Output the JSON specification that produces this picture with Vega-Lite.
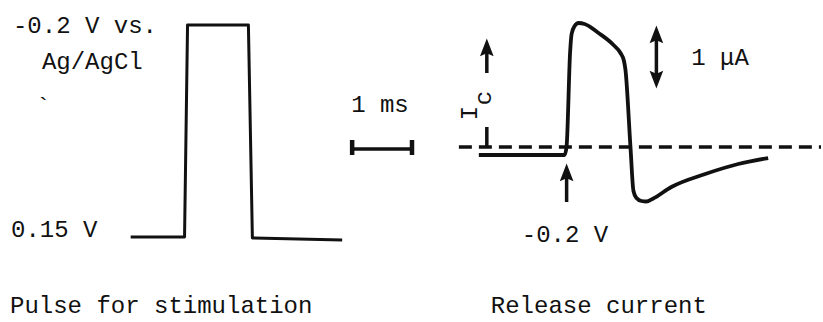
{
  "$schema": "https://vega.github.io/schema/vega-lite/v6.json",
  "width": 823,
  "height": 322,
  "autosize": {"type": "fit", "contains": "padding"},
  "padding": 0,
  "background": "white",
  "config": {"view": {"stroke": null}},
  "datasets": {
    "waves": [
      {"trace": "pulse", "i": 0, "x": 131, "y": 237},
      {"trace": "pulse", "i": 1, "x": 185, "y": 237},
      {"trace": "pulse", "i": 2, "x": 188, "y": 25},
      {"trace": "pulse", "i": 3, "x": 249, "y": 25},
      {"trace": "pulse", "i": 4, "x": 253, "y": 238},
      {"trace": "pulse", "i": 5, "x": 343, "y": 240},
      {"trace": "current", "i": 0, "x": 480, "y": 155},
      {"trace": "current", "i": 1, "x": 566, "y": 155},
      {"trace": "current", "i": 2, "x": 568, "y": 146},
      {"trace": "current", "i": 3, "x": 571.5, "y": 52},
      {"trace": "current", "i": 4, "x": 573, "y": 34},
      {"trace": "current", "i": 5, "x": 576, "y": 26},
      {"trace": "current", "i": 6, "x": 580, "y": 23},
      {"trace": "current", "i": 7, "x": 586, "y": 24},
      {"trace": "current", "i": 8, "x": 600, "y": 33},
      {"trace": "current", "i": 9, "x": 615, "y": 45},
      {"trace": "current", "i": 10, "x": 622, "y": 53},
      {"trace": "current", "i": 11, "x": 625.5, "y": 61},
      {"trace": "current", "i": 12, "x": 627, "y": 70},
      {"trace": "current", "i": 13, "x": 632, "y": 147},
      {"trace": "current", "i": 14, "x": 635, "y": 191},
      {"trace": "current", "i": 15, "x": 638, "y": 198},
      {"trace": "current", "i": 16, "x": 643, "y": 201},
      {"trace": "current", "i": 17, "x": 648, "y": 201.5},
      {"trace": "current", "i": 18, "x": 654, "y": 199},
      {"trace": "current", "i": 19, "x": 673, "y": 187},
      {"trace": "current", "i": 20, "x": 707, "y": 174},
      {"trace": "current", "i": 21, "x": 740, "y": 164},
      {"trace": "current", "i": 22, "x": 770, "y": 158}
    ],
    "hrules": [
      {"x": 460, "x2": 823, "y": 147, "kind": "baseline"},
      {"x": 353, "x2": 413, "y": 149, "kind": "scalebar"}
    ],
    "caps": [
      {"x": 353, "y": 140, "y2": 155},
      {"x": 413, "y": 140, "y2": 155}
    ],
    "shafts": [
      {"x": 488, "y": 50, "y2": 73},
      {"x": 488, "y": 127, "y2": 147},
      {"x": 568, "y": 175, "y2": 202},
      {"x": 658, "y": 37, "y2": 77}
    ],
    "heads": [
      {"x": 488, "y": 49, "dir": "up"},
      {"x": 568, "y": 174, "dir": "up"},
      {"x": 658, "y": 36, "dir": "up"},
      {"x": 658, "y": 78, "dir": "down"}
    ],
    "labels": [
      {"text": "-0.2 V vs.", "x": 13, "y": 33},
      {"text": "Ag/AgCl", "x": 42, "y": 69},
      {"text": "`", "x": 36, "y": 114},
      {"text": "0.15 V", "x": 11, "y": 237},
      {"text": "1 ms", "x": 352, "y": 112},
      {"text": "1 μA", "x": 693, "y": 65},
      {"text": "-0.2 V", "x": 523, "y": 242},
      {"text": "Pulse for stimulation", "x": 10, "y": 313},
      {"text": "Release current", "x": 492, "y": 313}
    ],
    "rotated": [
      {"text": "I", "x": 478, "y": 113},
      {"text": "c", "x": 492, "y": 98}
    ]
  },
  "encoding": {
    "x": {"field": "x", "type": "quantitative", "axis": null, "scale": {"domain": [0, 823], "nice": false, "zero": false}},
    "y": {"field": "y", "type": "quantitative", "axis": null, "scale": {"domain": [0, 322], "nice": false, "zero": false, "reverse": true}}
  },
  "layer": [
    {
      "data": {"name": "hrules"},
      "transform": [{"filter": "datum.kind === 'baseline'"}],
      "mark": {"type": "rule", "color": "#111", "strokeWidth": 3.5, "strokeDash": [13, 7]},
      "encoding": {"x2": {"field": "x2"}}
    },
    {
      "data": {"name": "hrules"},
      "transform": [{"filter": "datum.kind === 'scalebar'"}],
      "mark": {"type": "rule", "color": "#111", "strokeWidth": 3.5},
      "encoding": {"x2": {"field": "x2"}}
    },
    {
      "data": {"name": "caps"},
      "mark": {"type": "rule", "color": "#111", "strokeWidth": 4.5},
      "encoding": {"y2": {"field": "y2"}}
    },
    {
      "data": {"name": "shafts"},
      "mark": {"type": "rule", "color": "#111", "strokeWidth": 3.5},
      "encoding": {"y2": {"field": "y2"}}
    },
    {
      "data": {"name": "heads"},
      "mark": {"type": "point", "filled": true, "color": "#111", "opacity": 1, "size": 440, "strokeWidth": 0},
      "encoding": {
        "shape": {"field": "dir", "type": "nominal", "legend": null, "scale": {"domain": ["up", "down"], "range": ["M0,-1L0.65,0.7L0,0.4L-0.65,0.7Z", "M0,1L0.65,-0.7L0,-0.4L-0.65,-0.7Z"]}}
      }
    },
    {
      "data": {"name": "waves"},
      "transform": [{"filter": "datum.trace === 'pulse'"}],
      "mark": {"type": "line", "color": "#111", "strokeWidth": 3, "strokeJoin": "round"},
      "encoding": {"order": {"field": "i", "type": "quantitative"}}
    },
    {
      "data": {"name": "waves"},
      "transform": [{"filter": "datum.trace === 'current'"}],
      "mark": {"type": "line", "color": "#111", "strokeWidth": 3.8, "strokeJoin": "round", "interpolate": "monotone"},
      "encoding": {"order": {"field": "i", "type": "quantitative"}}
    },
    {
      "data": {"name": "labels"},
      "mark": {"type": "text", "font": "Liberation Mono", "fontSize": 24, "align": "left", "baseline": "alphabetic", "color": "#111"},
      "encoding": {"text": {"field": "text"}}
    },
    {
      "data": {"name": "rotated"},
      "mark": {"type": "text", "font": "Liberation Mono", "fontSize": 24, "align": "center", "baseline": "alphabetic", "angle": 270, "color": "#111"},
      "encoding": {"text": {"field": "text"}}
    }
  ]
}
